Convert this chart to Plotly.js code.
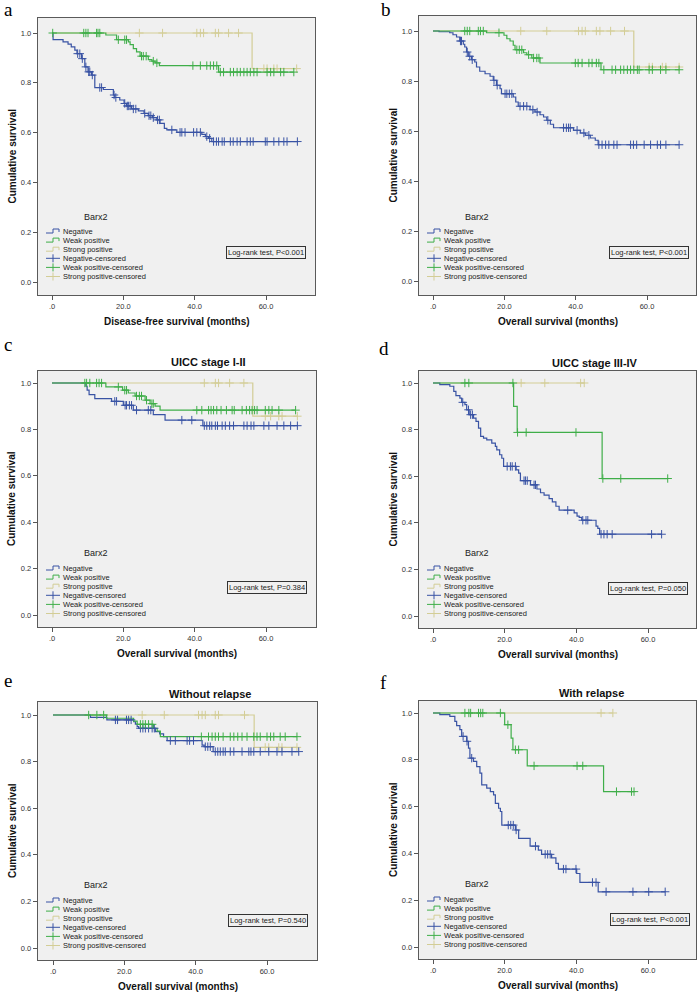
<!DOCTYPE html>
<html><head><meta charset="utf-8">
<script src="https://cdn.plot.ly/plotly-3.0.1.min.js"></script>
<style>html,body{margin:0;padding:0;background:#fff}#chart{width:700px;height:997px}</style>
</head><body><div id="chart"></div>
<script>
// ---------- tick labels & texts ----------
const xTickVals = [0, 20, 40, 60];
const xTickText = ['.0', '20.0', '40.0', '60.0'];
const yTickVals = [0, 0.2, 0.4, 0.6, 0.8, 1.0];
const yTickText = ['0.0', '0.2', '0.4', '0.6', '0.8', '1.0'];
const legendTitle = 'Barx2';
const legendLabels = ['Negative', 'Weak positive', 'Strong positive', 'Negative-censored', 'Weak positive-censored', 'Strong positive-censored'];
const panelLetters = ['a', 'b', 'c', 'd', 'e', 'f'];
const panelTitles = ['', '', 'UICC stage I-II', 'UICC stage III-IV', 'Without relapse', 'With relapse'];
const xTitles = ['Disease-free survival (months)', 'Overall survival (months)', 'Overall survival (months)', 'Overall survival (months)', 'Overall survival (months)', 'Overall survival (months)'];
const yTitle = 'Cumulative survival';
const pValues = ['P&lt;0.001', 'P&lt;0.001', 'P=0.384', 'P=0.050', 'P=0.540', 'P&lt;0.001'];

// ---------- panel a : disease-free survival ----------
const aNegT = [0.3, 3.1, 4.5, 5.4, 6.4, 7.0, 8.3, 9.2, 10.1, 11.1, 12.0, 14.4, 17.2, 17.6, 19.0, 20.2, 20.9, 22.3, 24.2, 25.8, 27.0, 28.2, 29.4, 30.3, 31.5, 32.2, 35.0, 42.0, 43.0, 43.9, 44.8];
const aNegS = [0.973, 0.964, 0.955, 0.944, 0.931, 0.917, 0.897, 0.864, 0.844, 0.831, 0.781, 0.773, 0.751, 0.741, 0.731, 0.717, 0.707, 0.695, 0.687, 0.677, 0.668, 0.660, 0.651, 0.637, 0.617, 0.611, 0.601, 0.593, 0.584, 0.577, 0.564];
const aNegC = [7.2, 7.8, 8.5, 9.5, 10.3, 10.6, 11.3, 13.4, 13.9, 17.4, 17.9, 20.4, 21.1, 21.4, 21.9, 22.8, 23.5, 26.0, 27.2, 27.7, 28.4, 29.6, 30.1, 33.6, 35.9, 36.4, 37.3, 39.7, 40.6, 41.6, 43.4, 44.2, 45.3, 46.1, 46.7, 47.7, 48.3, 50.0, 50.8, 51.9, 52.8, 54.7, 55.6, 56.4, 59.8, 60.3, 62.2, 63.6, 65.0, 65.9, 68.8];
const aWeakT = [15.1, 18.1, 21.4, 21.9, 22.8, 23.7, 24.7, 27.0, 28.0, 28.9, 30.1, 46.7];
const aWeakS = [0.992, 0.973, 0.964, 0.953, 0.937, 0.924, 0.907, 0.893, 0.887, 0.880, 0.869, 0.843];
const aWeakC = [0.2, 8.9, 9.5, 10.1, 12.5, 12.9, 13.4, 18.6, 20.4, 20.9, 25.1, 25.6, 26.4, 28.4, 29.4, 39.5, 41.6, 43.4, 44.4, 45.3, 46.2, 47.2, 48.1, 50.0, 50.9, 51.9, 52.8, 53.8, 54.7, 55.6, 56.6, 57.5, 60.3, 61.3, 62.2, 64.1, 65.0, 67.8];
const aStrongT = [56.1];
const aStrongS = [0.857];
const aStrongC = [24.5, 31.0, 40.6, 41.6, 42.5, 45.8, 46.7, 49.5, 52.3, 59.4, 60.3, 62.2, 63.1, 68.6];

// ---------- panel b : overall survival ----------
const bNegT = [1.7, 4.7, 5.6, 6.6, 7.5, 8.5, 8.9, 9.4, 9.9, 10.8, 11.7, 12.2, 13.1, 14.6, 16.0, 16.9, 17.8, 18.8, 19.2, 22.5, 23.2, 23.9, 27.2, 28.6, 30.0, 31.0, 31.9, 32.9, 33.8, 39.4, 41.3, 42.7, 44.1, 45.5, 46.3];
const bNegS = [0.997, 0.993, 0.985, 0.976, 0.960, 0.947, 0.936, 0.916, 0.899, 0.885, 0.876, 0.856, 0.839, 0.829, 0.819, 0.803, 0.783, 0.769, 0.749, 0.736, 0.716, 0.699, 0.685, 0.676, 0.665, 0.656, 0.643, 0.627, 0.613, 0.603, 0.592, 0.583, 0.572, 0.563, 0.545];
const bNegC = [7.7, 8.0, 9.6, 10.3, 11.0, 17.1, 18.0, 20.2, 20.7, 21.4, 22.1, 24.4, 25.4, 26.3, 28.0, 29.2, 32.2, 36.6, 37.4, 38.0, 38.5, 40.4, 42.3, 43.7, 46.5, 47.4, 48.4, 49.3, 50.7, 51.6, 55.4, 56.2, 57.1, 59.2, 61.0, 62.9, 63.8, 65.3, 69.0];
const bWeakT = [15.0, 19.9, 20.7, 21.6, 22.5, 23.0, 25.4, 26.3, 27.7, 30.0, 47.1];
const bWeakS = [0.993, 0.983, 0.969, 0.960, 0.943, 0.925, 0.913, 0.905, 0.892, 0.872, 0.845];
const bWeakC = [8.9, 9.6, 10.3, 12.7, 13.3, 14.1, 18.5, 23.5, 24.2, 24.9, 26.8, 28.2, 29.1, 29.7, 39.9, 40.7, 41.8, 43.7, 44.6, 45.8, 46.5, 47.9, 50.2, 51.2, 52.6, 53.5, 54.5, 55.4, 56.3, 57.3, 57.8, 60.6, 61.5, 63.8, 65.3, 69.0];
const bStrongT = [56.3];
const bStrongS = [0.856];
const bStrongC = [24.6, 31.9, 40.8, 41.8, 42.7, 45.8, 46.8, 49.8, 53.7, 60.6, 61.5, 64.3, 65.3, 69.0];

// ---------- panel c : UICC stage I-II ----------
const cNegT = [9.5, 9.85, 10.4, 12.0, 16.7, 20.0, 22.8, 28.4, 31.7, 42.3];
const cNegS = [0.986, 0.969, 0.950, 0.933, 0.921, 0.904, 0.883, 0.864, 0.840, 0.816];
const cNegC = [17.6, 18.1, 20.5, 20.9, 21.7, 22.3, 23.7, 27.0, 27.7, 36.4, 39.2, 42.7, 43.4, 44.2, 44.8, 45.8, 46.4, 47.7, 48.6, 49.8, 50.9, 53.8, 54.7, 55.8, 56.6, 59.4, 60.8, 63.1, 65.0, 66.9, 68.8];
const cWeakT = [15.1, 19.8, 21.4, 23.3, 26.1, 27.5, 28.9, 30.3];
const cWeakS = [0.983, 0.969, 0.957, 0.944, 0.926, 0.911, 0.900, 0.883];
const cWeakC = [9.2, 9.7, 10.6, 12.5, 13.2, 13.9, 18.6, 20.4, 20.9, 23.7, 24.5, 25.1, 26.5, 28.0, 28.4, 40.6, 42.0, 43.9, 44.6, 45.3, 46.2, 47.4, 48.9, 50.5, 51.1, 53.3, 54.5, 55.4, 56.1, 56.8, 57.5, 59.8, 60.8, 61.7, 63.6, 68.3];
const cStrongT = [56.3];
const cStrongS = [0.857];
const cStrongC = [42.7, 45.8, 46.7, 49.8, 53.8, 59.8, 61.3, 63.6, 64.5, 68.8];

// ---------- panel d : UICC stage III-IV ----------
const dNegT = [1.9, 4.7, 5.8, 6.4, 7.5, 8.0, 8.9, 9.4, 10.1, 11.3, 12.0, 12.7, 13.3, 14.1, 15.0, 16.4, 17.4, 17.8, 18.6, 19.2, 19.7, 23.2, 23.9, 24.4, 27.2, 29.0, 30.0, 31.0, 32.4, 33.3, 34.3, 35.2, 39.4, 40.2, 40.8, 41.5, 45.5, 46.0, 46.5];
const dNegS = [0.993, 0.986, 0.964, 0.946, 0.935, 0.917, 0.907, 0.885, 0.864, 0.849, 0.835, 0.806, 0.771, 0.763, 0.756, 0.742, 0.728, 0.713, 0.692, 0.677, 0.642, 0.627, 0.613, 0.581, 0.563, 0.545, 0.529, 0.519, 0.504, 0.490, 0.471, 0.454, 0.443, 0.429, 0.423, 0.411, 0.386, 0.376, 0.351];
const dNegC = [8.3, 9.9, 10.5, 11.0, 20.7, 21.6, 22.1, 23.0, 25.4, 25.8, 26.3, 28.2, 28.6, 37.6, 41.8, 42.7, 43.2, 46.9, 47.7, 48.6, 50.0, 61.0, 63.8];
const dWeakT = [22.5, 23.5, 47.2];
const dWeakS = [0.900, 0.788, 0.590];
const dWeakC = [8.9, 10.0, 22.3, 23.6, 26.0, 39.9, 47.4, 52.4, 65.5];
const dStrongT = [];
const dStrongS = [];
const dStrongC = [24.6, 31.2, 41.2, 42.2];

// ---------- panel e : without relapse ----------
const eNegT = [10.5, 15.1, 22.6, 23.1, 23.6, 24.0, 28.7, 29.9, 31.0, 32.0, 41.8, 42.4, 44.9];
const eNegS = [0.990, 0.979, 0.971, 0.961, 0.950, 0.943, 0.929, 0.919, 0.907, 0.890, 0.871, 0.864, 0.843];
const eNegC = [17.5, 18.1, 20.6, 21.2, 21.9, 24.5, 25.2, 25.9, 26.8, 27.8, 28.4, 32.9, 34.3, 37.6, 38.3, 39.4, 42.7, 43.4, 44.1, 45.5, 46.2, 46.9, 47.7, 48.3, 49.7, 50.7, 53.0, 54.9, 55.5, 56.3, 58.1, 60.5, 62.8, 64.2, 67.0, 68.9];
const eWeakT = [15.0, 22.6, 23.6, 28.2, 29.2, 30.1];
const eWeakS = [0.986, 0.974, 0.960, 0.943, 0.931, 0.907];
const eWeakC = [10.0, 12.3, 14.2, 24.5, 25.2, 25.9, 26.8, 27.8, 41.6, 43.6, 44.6, 45.5, 46.4, 47.7, 49.7, 50.7, 51.8, 53.0, 54.4, 56.3, 57.2, 58.1, 60.0, 61.0, 61.9, 63.7, 65.1, 68.4];
const eStrongT = [56.4];
const eStrongS = [0.861];
const eStrongC = [25.0, 31.2, 40.8, 41.8, 42.7, 45.5, 46.4, 53.7, 59.5, 60.5, 63.3, 64.2, 68.4];

// ---------- panel f : with relapse ----------
const fNegT = [1.9, 4.7, 6.1, 6.6, 7.5, 8.0, 9.4, 9.9, 10.3, 11.3, 12.2, 13.1, 13.6, 15.0, 16.0, 16.9, 17.4, 18.3, 18.8, 19.2, 23.0, 23.9, 27.1, 29.4, 30.3, 33.1, 34.3, 35.0, 40.1, 41.0, 46.1];
const fNegS = [0.993, 0.986, 0.964, 0.946, 0.929, 0.900, 0.879, 0.850, 0.807, 0.793, 0.771, 0.743, 0.693, 0.679, 0.664, 0.650, 0.614, 0.593, 0.579, 0.521, 0.500, 0.464, 0.431, 0.414, 0.396, 0.381, 0.357, 0.333, 0.314, 0.276, 0.236];
const fNegC = [8.4, 9.5, 10.8, 21.0, 21.7, 22.4, 23.2, 28.6, 31.3, 32.0, 32.7, 36.4, 37.1, 39.9, 44.5, 45.5, 48.3, 55.8, 60.2, 64.8];
const fWeakT = [20.0, 21.8, 22.3, 26.3, 47.6];
const fWeakS = [0.950, 0.893, 0.843, 0.774, 0.664];
const fWeakC = [8.9, 10.0, 10.5, 12.7, 13.3, 13.9, 18.8, 20.9, 23.0, 23.9, 28.2, 40.2, 41.8, 51.2, 55.4, 56.1];
const fStrongT = [];
const fStrongS = [];
const fStrongC = [46.9, 50.2];

// ---------- assembly ----------
const panelData = [
  [[aNegT, aNegS, aNegC], [aWeakT, aWeakS, aWeakC], [aStrongT, aStrongS, aStrongC]],
  [[bNegT, bNegS, bNegC], [bWeakT, bWeakS, bWeakC], [bStrongT, bStrongS, bStrongC]],
  [[cNegT, cNegS, cNegC], [cWeakT, cWeakS, cWeakC], [cStrongT, cStrongS, cStrongC]],
  [[dNegT, dNegS, dNegC], [dWeakT, dWeakS, dWeakC], [dStrongT, dStrongS, dStrongC]],
  [[eNegT, eNegS, eNegC], [eWeakT, eWeakS, eWeakC], [eStrongT, eStrongS, eStrongC]],
  [[fNegT, fNegS, fNegC], [fWeakT, fWeakS, fWeakC], [fStrongT, fStrongS, fStrongC]]
];

const W = 700, H = 997;
const FONT = 'Liberation Sans, Arial, sans-serif';
const SERIF = 'Liberation Serif, Times New Roman, serif';
const COLORS = ['#3953a4', '#3fae49', '#d3cd96'];
// layout geometry in pixels: plot box, pixel of x=0 / x=60, pixel of y=1 / y=0
const geo = [
  {l: 38, r: 315, t: 18, b: 295, x0: 52, x60: 266, y1: 33, y0: 282, letter: [2, 9], title: null, xt: 321, yt: 12, side: 'L', lgT: 217, lg0: 231, lr: [306, 252.5]},
  {l: 419, r: 696, t: 16, b: 295, x0: 433, x60: 647, y1: 31, y0: 281, letter: [379, 9], title: null, xt: 321, yt: 393, side: 'R', lgT: 217, lg0: 231, lr: [689, 252]},
  {l: 38, r: 316, t: 371, b: 627, x0: 52, x60: 266, y1: 383, y0: 615, letter: [2, 344], title: [208, 362], xt: 653, yt: 12, side: 'L', lgT: 553, lg0: 568, lr: [307, 587]},
  {l: 419, r: 696, t: 371, b: 628, x0: 433, x60: 648, y1: 383, y0: 616, letter: [377, 348], title: [595, 363], xt: 654, yt: 393, side: 'R', lgT: 553, lg0: 568, lr: [688, 588]},
  {l: 38, r: 317, t: 702, b: 960, x0: 53, x60: 267, y1: 715, y0: 948, letter: [2, 680], title: [210, 694], xt: 986, yt: 12, side: 'L', lgT: 885, lg0: 900, lr: [308, 920]},
  {l: 419, r: 696, t: 701, b: 959, x0: 433, x60: 648, y1: 713, y0: 947, letter: [378, 682], title: [591, 693], xt: 985, yt: 393, side: 'R', lgT: 884, lg0: 899, lr: [690, 919]}
];
const legX = {L: {icon: 46, text: 61, title: 96}, R: {icon: 427, text: 442, title: 477}};
const LEG_STEP = 9.1;

const px = v => v / W;
const py = v => 1 - v / H;

function survAt(T, S, t) {
  let s = 1;
  for (let i = 0; i < T.length; i++) if (T[i] <= t) s = S[i];
  return s;
}

const traces = [];
const layout = {
  width: W, height: H, margin: {l: 0, r: 0, t: 0, b: 0},
  paper_bgcolor: '#ffffff', plot_bgcolor: '#f0f0f0',
  showlegend: false, font: {family: FONT, color: '#222'},
  annotations: [], shapes: []
};

const drawOrder = [2, 0, 1];
geo.forEach((g, p) => {
  const sx = p === 0 ? '' : String(p + 1);
  const xa = 'x' + sx, ya = 'y' + sx;
  const ux = (g.x60 - g.x0) / 60;
  const uy = (g.y0 - g.y1);
  layout['xaxis' + sx] = {
    domain: [px(g.l), px(g.r)],
    range: [(g.l - g.x0) / ux, (g.r - g.x0) / ux],
    anchor: ya, showgrid: false, zeroline: false, showline: true, mirror: true,
    linecolor: '#5a5a5a', linewidth: 1.3, ticks: 'outside', ticklen: 4, tickwidth: 1, tickcolor: '#555',
    tickmode: 'array', tickvals: xTickVals, ticktext: xTickText,
    tickfont: {size: 7.5, color: '#333', family: FONT}, fixedrange: true
  };
  layout['yaxis' + sx] = {
    domain: [py(g.b), py(g.t)],
    range: [(g.y0 - g.b) / uy, (g.y0 - g.t) / uy],
    anchor: xa, showgrid: false, zeroline: false, showline: true, mirror: true,
    linecolor: '#5a5a5a', linewidth: 1.3, ticks: 'outside', ticklen: 4, tickwidth: 1, tickcolor: '#555',
    tickmode: 'array', tickvals: yTickVals, ticktext: yTickText,
    tickfont: {size: 7.5, color: '#333', family: FONT}, fixedrange: true
  };

  // curves
  drawOrder.forEach(k => {
    const [T, S, C] = panelData[p][k];
    const end = Math.max(...T, ...C);
    const xs = [0, ...T, end];
    const ys = [1, ...S, S.length ? S[S.length - 1] : 1];
    traces.push({x: xs, y: ys, xaxis: xa, yaxis: ya, mode: 'lines', line: {shape: 'hv', color: COLORS[k], width: 1.2}, hoverinfo: 'skip'});
  });
  drawOrder.forEach(k => {
    const [T, S, C] = panelData[p][k];
    traces.push({x: C, y: C.map(t => survAt(T, S, t)), xaxis: xa, yaxis: ya, mode: 'markers',
      marker: {symbol: 'cross-thin', size: 6, color: COLORS[k], line: {width: 1, color: COLORS[k]}}, hoverinfo: 'skip'});
  });

  // letters, titles, axis titles
  layout.annotations.push({text: panelLetters[p], x: px(g.letter[0]), y: py(g.letter[1]), xref: 'paper', yref: 'paper', xanchor: 'left', yanchor: 'middle', showarrow: false, font: {family: SERIF, size: 19, color: '#000'}});
  if (g.title) layout.annotations.push({text: '<b>' + panelTitles[p] + '</b>', x: px(g.title[0]), y: py(g.title[1]), xref: 'paper', yref: 'paper', xanchor: 'center', yanchor: 'middle', showarrow: false, font: {family: FONT, size: 11, color: '#111'}});
  layout.annotations.push({text: '<b>' + xTitles[p] + '</b>', x: px((g.l + g.r) / 2), y: py(g.xt), xref: 'paper', yref: 'paper', xanchor: 'center', yanchor: 'middle', showarrow: false, font: {family: FONT, size: 10, color: '#111'}});
  layout.annotations.push({text: '<b>' + yTitle + '</b>', x: px(g.yt), y: py((g.t + g.b) / 2), xref: 'paper', yref: 'paper', xanchor: 'center', yanchor: 'middle', textangle: -90, showarrow: false, font: {family: FONT, size: 10, color: '#111'}});

  // legend
  const lx = legX[g.side];
  layout.annotations.push({text: legendTitle, x: px(lx.title), y: py(g.lgT), xref: 'paper', yref: 'paper', xanchor: 'center', yanchor: 'middle', showarrow: false, font: {family: FONT, size: 9, color: '#222'}});
  legendLabels.forEach((lab, i) => {
    const yy = g.lg0 + i * LEG_STEP;
    layout.annotations.push({text: lab, x: px(lx.text), y: py(yy), xref: 'paper', yref: 'paper', xanchor: 'left', yanchor: 'middle', showarrow: false, font: {family: FONT, size: 7.5, color: '#222'}});
    const col = COLORS[i % 3];
    const ix = lx.icon;
    let path;
    if (i < 3) {
      path = `M ${px(ix)},${py(yy + 2)} H ${px(ix + 7)} V ${py(yy - 2)} H ${px(ix + 13)} V ${py(yy + 1)}`;
    } else {
      path = `M ${px(ix)},${py(yy)} H ${px(ix + 14)} M ${px(ix + 7)},${py(yy - 4)} V ${py(yy + 4)}`;
    }
    layout.shapes.push({type: 'path', xref: 'paper', yref: 'paper', path: path, line: {color: col, width: 1}});
  });

  // log-rank box
  layout.annotations.push({text: 'Log-rank test, ' + pValues[p], x: px(g.lr[0]), y: py(g.lr[1]), xref: 'paper', yref: 'paper', xanchor: 'right', yanchor: 'middle', showarrow: false,
    font: {family: FONT, size: 7.5, color: '#222'}, bordercolor: '#333', borderwidth: 1, borderpad: 1, bgcolor: 'rgba(0,0,0,0)'});
});

Plotly.newPlot('chart', traces, layout, {staticPlot: true, displayModeBar: false});
</script>
</body></html>
